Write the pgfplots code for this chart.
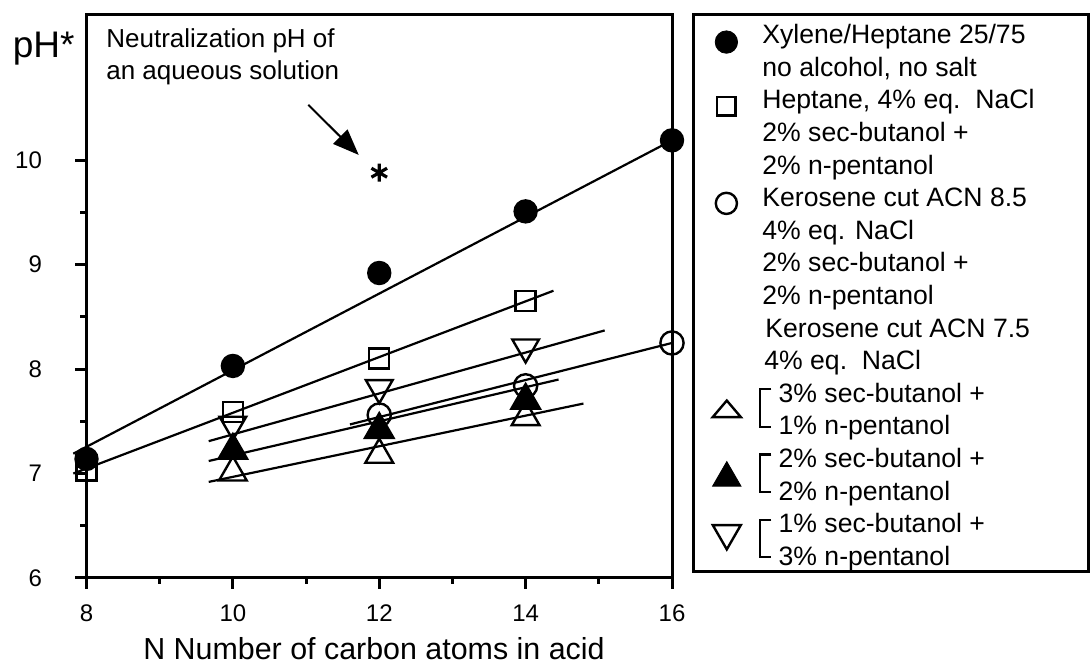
\documentclass[border=0pt]{standalone}
\usepackage{fontspec}
\setmainfont{Liberation Sans}
\usepackage{pgfplots}
\pgfplotsset{compat=1.18}
\usetikzlibrary{arrows.meta}

% legend rows: marker image (or nothing) + one line of text
\newcommand{\lgblank}{\addlegendimage{legend image code/.code={\path[draw=none,fill=none] (0pt,0pt) rectangle (14pt,0pt);}}}
\newcommand{\lgimg}[2]{\addlegendimage{legend image code/.code={\path[draw=none,fill=none] (0pt,0pt) rectangle (14pt,0pt);
    \draw[overlay,#1] plot coordinates {(7pt,#2)};}}}
\newcommand{\lgbrack}[2]{\addlegendimage{legend image code/.code={\path[draw=none,fill=none] (0pt,0pt) rectangle (14pt,0pt);
    \draw[overlay,#1] plot coordinates {(7.2pt,#2)};
    \draw[overlay,black,line width=1.1pt] (29.5pt,3.2pt) -- (24pt,3.2pt) -- (24pt,-15.5pt) -- (29.5pt,-15.5pt);}}}

\pgfplotsset{
  fit/.style={black, line width=1.1pt, no marks, forget plot},
  pts/.style={black, only marks, forget plot, mark options={line width=1.2pt}},
}

\begin{document}
\begin{tikzpicture}
\begin{axis}[
  at={(0pt,0pt)}, anchor=south west,
  scale only axis, width=292.75pt, height=281.5pt,
  xmin=8, xmax=16, ymin=6, ymax=11.39,
  xtick={8,10,...,16}, minor xtick={9,11,13,15},
  ytick={6,...,10}, minor ytick={6.5,7.5,8.5,9.5},
  tick align=outside, tick pos=left,
  major tick length=5.5pt, minor tick length=3pt,
  major tick style={line width=1.5pt, black},
  minor tick style={line width=1.5pt, black},
  axis line style={line width=1.5pt},
  tick label style={font=\fontsize{12}{14}\selectfont},
  /pgf/number format/assume math mode=true,
  xticklabel shift=4.5pt, yticklabel shift=13.25pt,
  xlabel={N Number of carbon atoms in acid},
  xlabel style={at={(axis description cs:0.491,-0.126)}, anchor=center, font=\fontsize{15.2}{18}\selectfont},
  ylabel={pH*},
  ylabel style={rotate=-90, at={(axis description cs:-0.073,0.94)}, anchor=center, font=\fontsize{18.5}{22}\selectfont},
  clip=false,
  legend cell align=left,
  legend style={draw=none, fill=none, at={(1.0683,0.9853)}, anchor=north west,
    inner sep=0pt, row sep=2.8pt, column sep=11pt,
    font=\fontsize{13.3}{15}\selectfont,
    nodes={inner sep=0pt, text height=10pt, text depth=3.5pt}},
]
% fitted lines
\addplot[fit] coordinates {(7.82,7.19) (16,10.19)};
\addplot[fit] coordinates {(7.82,7.00) (14.38,8.75)};
\addplot[fit] coordinates {(11.6,7.47) (16,8.25)};
\addplot[fit] coordinates {(9.67,6.92) (14.79,7.67)};
\addplot[fit] coordinates {(9.67,7.12) (14.45,7.90)};
\addplot[fit] coordinates {(9.67,7.31) (15.08,8.37)};

% measured points
\addplot[pts, mark=*, mark size=5.5pt] coordinates {(8,7.14) (10,8.03) (12,8.92) (14,9.51) (16,10.19)};
\addplot[pts, mark=square, mark size=5pt] coordinates {(8,7.03) (10,7.59) (12,8.10) (14,8.65)};
\addplot[pts, mark=o, mark size=5.8pt] coordinates {(12,7.56) (14,7.84) (16,8.25)};
\addplot[pts, mark=triangle, mark size=8pt] coordinates {(10,7.01) (12,7.18) (14,7.54)};
\addplot[pts, mark=triangle*, mark size=8.2pt] coordinates {(10,7.22) (12,7.42) (14,7.70)};
\addplot[pts, mark=triangle, mark size=7.7pt, mark options={rotate=180, line width=1.2pt}] coordinates {(10,7.47) (12,7.82) (14,8.21)};

% neutralization pH of an aqueous solution
\addplot[black, only marks, forget plot, mark=asterisk, mark size=4.5pt, mark options={line width=1.6pt}] coordinates {(12,9.88)};
\draw[-{Triangle[length=13pt,width=10pt]}, line width=1pt] (axis cs:11.03,10.53) -- (axis cs:11.72,10.05);
\node[anchor=west, align=left, inner sep=0pt, font=\fontsize{13}{15.8}\selectfont] at (axis cs:8.266,10.99)
  {Neutralization pH of\\an aqueous solution};

% legend
\lgimg{black,mark=*,mark size=5.6pt}{-2.45pt}\addlegendentry{Xylene/Heptane 25/75}
\lgblank\addlegendentry{no alcohol, no salt}
\lgimg{black,mark=square,mark size=4.6pt,mark options={line width=1.2pt}}{-1.9pt}\addlegendentry{Heptane, 4\% eq.~~NaCl}
\lgblank\addlegendentry{2\% sec-butanol +}
\lgblank\addlegendentry{2\% n-pentanol}
\lgimg{black,mark=o,mark size=5.3pt,mark options={line width=1.2pt}}{-1.6pt}\addlegendentry{Kerosene cut ACN 8.5}
\lgblank\addlegendentry{4\% eq. NaCl}
\lgblank\addlegendentry{2\% sec-butanol +}
\lgblank\addlegendentry{2\% n-pentanol}
\lgblank\addlegendentry{\hspace*{1.5pt}Kerosene cut ACN 7.5}
\lgblank\addlegendentry{\hspace*{1pt}4\% eq.~~NaCl}
\lgbrack{black,mark=triangle,mark size=8.1pt,mark options={line width=1.2pt,yscale=0.68}}{-7.9pt}\addlegendentry{\hspace*{8.15pt}3\% sec-butanol +}
\lgblank\addlegendentry{\hspace*{8.15pt}1\% n-pentanol}
\lgbrack{black,mark=triangle*,mark size=8.2pt}{-8.5pt}\addlegendentry{\hspace*{8.15pt}2\% sec-butanol +}
\lgblank\addlegendentry{\hspace*{8.15pt}2\% n-pentanol}
\lgbrack{black,mark=triangle,mark size=8.1pt,mark options={rotate=180,line width=1.2pt}}{-3.5pt}\addlegendentry{\hspace*{8.15pt}1\% sec-butanol +}
\lgblank\addlegendentry{\hspace*{8.15pt}3\% n-pentanol}

\draw[line width=1.5pt] (rel axis cs:1.0359,0.0107) rectangle (rel axis cs:1.7105,1);
\end{axis}
\pgfresetboundingbox
\path[use as bounding box] (-43.25pt,-44.5pt) rectangle (502.25pt,289pt);
\end{tikzpicture}
\end{document}
